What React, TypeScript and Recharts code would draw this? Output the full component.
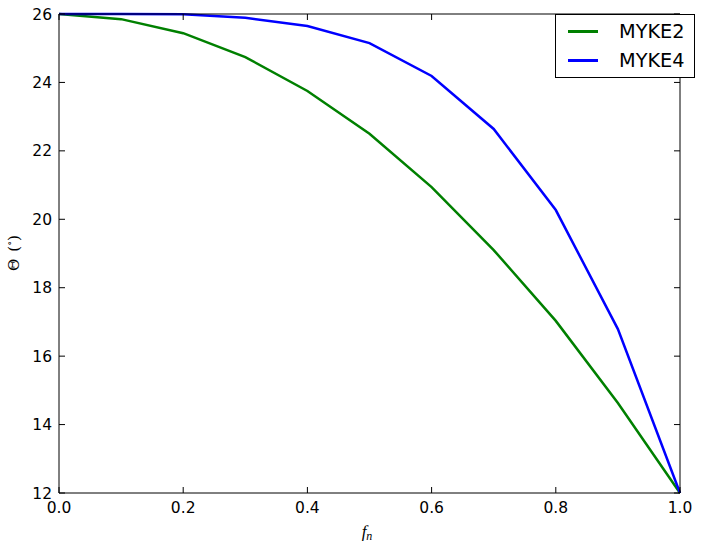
import { Line, LineChart, XAxis, YAxis } from 'recharts';

const fn = [0, 0.1, 0.2, 0.3, 0.4, 0.5, 0.6, 0.7, 0.8, 0.9, 1.0];
const myke2 = [26.0, 25.85, 25.44, 24.74, 23.75, 22.5, 20.94, 19.1, 17.03, 14.63, 12.0];
const myke4 = [26.0, 26.0, 25.99, 25.89, 25.65, 25.15, 24.19, 22.64, 20.27, 16.79, 12.0];
const xTicks = [0, 0.2, 0.4, 0.6, 0.8, 1.0];
const yTicks = [12, 14, 16, 18, 20, 22, 24, 26];

const series = [
  { key: 'MYKE2', color: '#008000' },
  { key: 'MYKE4', color: '#0000ff' },
];

const data = fn.map((f, i) => ({ fn: f, MYKE2: myke2[i], MYKE4: myke4[i] }));

const tickFont = { fontFamily: 'DejaVu Sans', fontSize: 15.5, fill: '#000' };
const TICK = 6;

const BottomTick = (props: any) => {
  const { x, y, payload } = props;
  return (
    <g>
      <line x1={x} x2={x} y1={y} y2={y - TICK} stroke="#000" />
      <text x={x} y={y + 19.5} textAnchor="middle" {...tickFont}>
        {payload.value.toFixed(1)}
      </text>
    </g>
  );
};

const TopTick = (props: any) => {
  const { x, y } = props;
  return <line x1={x} x2={x} y1={y} y2={y + TICK} stroke="#000" />;
};

const LeftTick = (props: any) => {
  const { x, y, payload } = props;
  return (
    <g>
      <line x1={x} x2={x + TICK} y1={y} y2={y} stroke="#000" />
      <text x={x - 7} y={y + 5.5} textAnchor="end" {...tickFont}>
        {payload.value}
      </text>
    </g>
  );
};

const RightTick = (props: any) => {
  const { x, y } = props;
  return <line x1={x} x2={x - TICK} y1={y} y2={y} stroke="#000" />;
};

const LegendBox = () => (
  <div
    style={{
      position: 'absolute',
      left: 555,
      top: 14,
      width: 138,
      height: 62,
      border: '1px solid #000',
      background: '#fff',
      fontFamily: 'DejaVu Sans',
      fontSize: 19.3,
    }}
  >
    {series.map((s) => (
      <div
        key={s.key}
        style={{ display: 'flex', alignItems: 'center', height: 29, marginTop: s.key === 'MYKE2' ? 2 : 0 }}
      >
        <div style={{ width: 30, height: 3, background: s.color, marginLeft: 12, marginRight: 21 }} />
        <span>{s.key}</span>
      </div>
    ))}
  </div>
);

export default function App() {
  return (
    <div style={{ position: 'absolute', left: 0, top: 0, width: 703, height: 548, background: '#fff' }}>
      <LineChart width={703} height={548} data={data} margin={{ top: 13, right: 22, left: 0, bottom: 0 }}>
        <XAxis
          dataKey="fn"
          type="number"
          domain={[0, 1]}
          ticks={xTicks}
          tickSize={0}
          tickMargin={0}
          tick={<BottomTick />}
          height={55}
          stroke="#000"
          interval={0}
          label={{
            content: () => (
              <text x={367} y={537} textAnchor="middle" fontFamily="Liberation Serif" fontStyle="italic" fontSize={17}>
                f<tspan dy={3} fontSize={12}>n</tspan>
              </text>
            ),
          }}
        />
        <XAxis
          xAxisId="top"
          orientation="top"
          dataKey="fn"
          type="number"
          domain={[0, 1]}
          ticks={xTicks}
          tickSize={0}
          tickMargin={0}
          tick={<TopTick />}
          height={1}
          stroke="#000"
          interval={0}
        />
        <YAxis
          type="number"
          domain={[12, 26]}
          ticks={yTicks}
          tickSize={0}
          tickMargin={0}
          tick={<LeftTick />}
          width={59}
          stroke="#000"
          interval={0}
          label={{
            content: () => (
              <text
                x={19}
                y={253}
                transform="rotate(-90 19 253)"
                textAnchor="middle"
                fontFamily="DejaVu Serif"
                fontSize={15}
              >
                Θ<tspan dx={7}>(</tspan>
                <tspan dy={-6} fontSize={10}>∘</tspan>
                <tspan dy={6}>)</tspan>
              </text>
            ),
          }}
        />
        <YAxis
          yAxisId="right"
          orientation="right"
          type="number"
          domain={[12, 26]}
          ticks={yTicks}
          tickSize={0}
          tickMargin={0}
          tick={<RightTick />}
          width={1}
          stroke="#000"
          interval={0}
        />
        {/* invisible series so the top/right frame axes get drawn */}
        <Line
          xAxisId="top"
          yAxisId="right"
          dataKey="MYKE2"
          stroke="none"
          dot={false}
          activeDot={false}
          legendType="none"
          isAnimationActive={false}
        />
        {series.map((s) => (
          <Line
            key={s.key}
            type="linear"
            dataKey={s.key}
            stroke={s.color}
            strokeWidth={2.5}
            dot={false}
            activeDot={false}
            isAnimationActive={false}
          />
        ))}
      </LineChart>
      <LegendBox />
    </div>
  );
}
